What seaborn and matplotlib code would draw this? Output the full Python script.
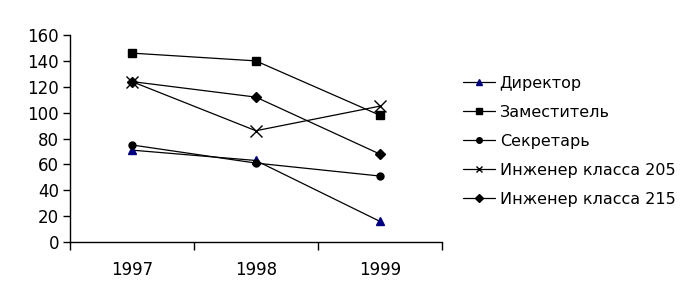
import matplotlib
matplotlib.use("Agg")
import matplotlib.pyplot as plt
import seaborn as sns
import pandas as pd

years = ["1997", "1998", "1999"]
series_names = ["Директор", "Заместитель", "Секретарь",
                "Инженер класса 205", "Инженер класса 215"]
director = [71, 63, 16]
deputy = [146, 140, 98]
secretary = [75, 61, 51]
engineer205 = [124, 86, 105]
engineer215 = [124, 112, 68]
y_ticks = [0, 20, 40, 60, 80, 100, 120, 140, 160]

values = [director, deputy, secretary, engineer205, engineer215]
rows = []
for name, vals in zip(series_names, values):
    for i, v in enumerate(vals):
        rows.append({"pos": i, "value": v, "series": name})
df = pd.DataFrame(rows)

sns.set_style("white")
plt.rcParams['font.family'] = ['DejaVu Sans']
plt.rcParams['text.color'] = 'black'
plt.rcParams['xtick.color'] = 'black'
plt.rcParams['ytick.color'] = 'black'

fig = plt.figure(figsize=(7.0, 3.05), dpi=100)
ax = fig.add_axes([0.1, 0.2066, 0.531, 0.6786])

palette = {series_names[0]: "#000080", series_names[1]: "black",
           series_names[2]: "black", series_names[3]: "black",
           series_names[4]: "black"}
markers = {series_names[0]: "^", series_names[1]: "s", series_names[2]: "o",
           series_names[3]: "x", series_names[4]: "D"}
sizes_m = {series_names[0]: 6, series_names[1]: 6, series_names[2]: 5,
           series_names[3]: 8, series_names[4]: 5}

for name in series_names:
    sub = df[df["series"] == name]
    sns.lineplot(data=sub, x="pos", y="value", ax=ax, color="black",
                 linewidth=0.9, marker=markers[name], markersize=sizes_m[name],
                 markerfacecolor=palette[name], markeredgecolor=palette[name],
                 markeredgewidth=1.0, label=name)

ax.set_xlim(-0.5, 2.5)
ax.set_ylim(0, 160)
ax.set_yticks(y_ticks)
ax.set_xticks([-0.5, 0.5, 1.5, 2.5])
ax.set_xticklabels([])
ax.set_xticks([0, 1, 2], minor=True)
ax.set_xticklabels(years, minor=True)
ax.tick_params(axis="x", which="major", bottom=True, length=6, width=1,
               direction="out", color="black")
ax.tick_params(axis="x", which="minor", bottom=True, length=0, pad=14,
               labelsize=12, labelcolor="black")
ax.tick_params(axis="y", left=True, length=5, width=1, direction="out",
               color="black", labelsize=12, pad=3, labelcolor="black")
ax.set_xlabel("")
ax.set_ylabel("")
for s in ["top", "right"]:
    ax.spines[s].set_visible(False)
for s in ["left", "bottom"]:
    ax.spines[s].set_color("black")
    ax.spines[s].set_linewidth(1)

leg = ax.legend(loc="upper left", bbox_to_anchor=(1.04, 0.835), frameon=False,
                fontsize=11.5, handlelength=2.0, handletextpad=0.3,
                labelspacing=0.88, borderaxespad=0)
for t in leg.get_texts():
    t.set_color("black")
for h in leg.legend_handles:
    h.set_markersize(4)

fig.savefig("out.png", dpi=100, facecolor="white")
